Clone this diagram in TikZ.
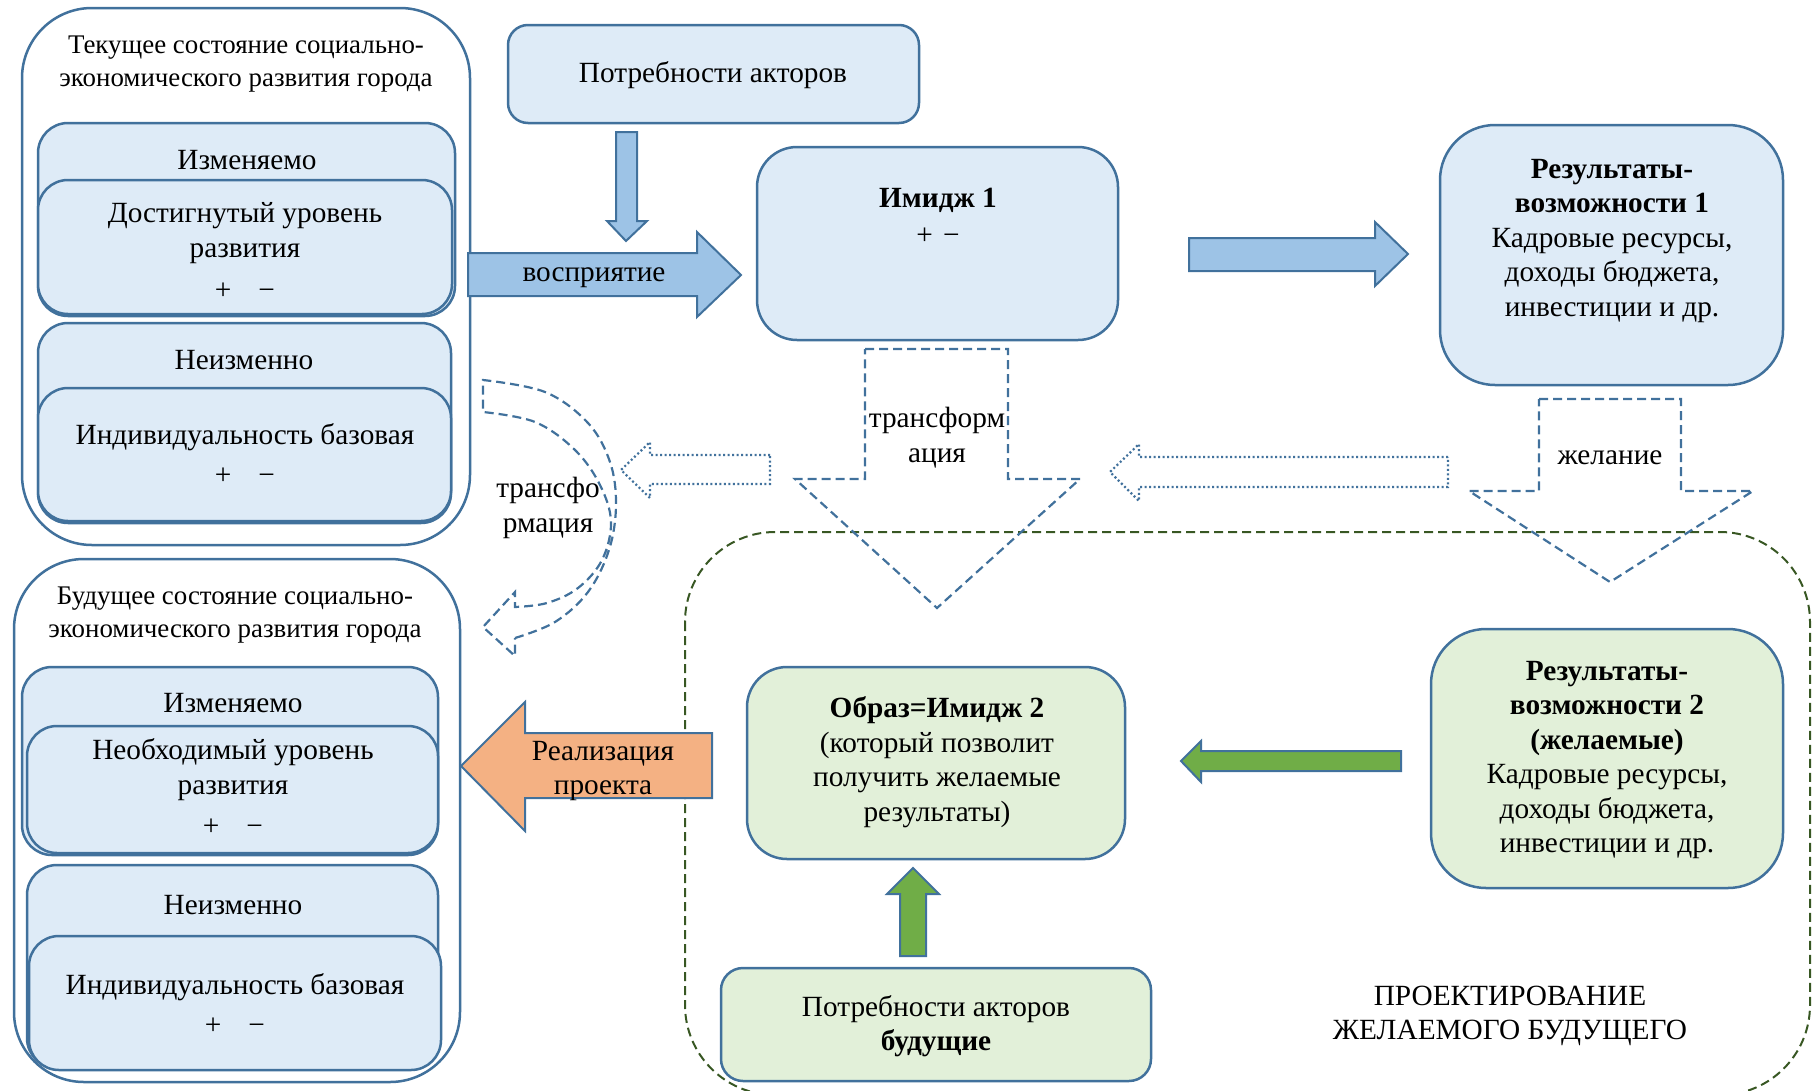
\documentclass[tikz,border=0pt]{standalone}
\usepackage{fontspec}
\setmainfont{Liberation Serif}
\definecolor{lineblue}{RGB}{65,113,156}
\definecolor{fillblue}{RGB}{222,235,247}
\definecolor{arrowblue}{RGB}{157,195,230}
\definecolor{greenfill}{RGB}{226,240,217}
\definecolor{greenarrow}{RGB}{112,173,71}
\definecolor{orangefill}{RGB}{244,177,131}
\definecolor{dashgreen}{RGB}{56,87,35}
\begin{document}
\begin{tikzpicture}[x=1pt,y=-1pt,
  every node/.style={inner sep=0pt, outer sep=0pt},
  txt/.style={font=\fontsize{29.3}{34.5}\selectfont, align=center},
  ttl/.style={font=\fontsize{26.9}{33}\selectfont, align=center},
  outerbox/.style={draw=lineblue, line width=2.5pt, fill=white, rounded corners=70pt},
  bbox/.style={draw=lineblue, line width=2.5pt, fill=fillblue, rounded corners=#1},
  gbox/.style={draw=lineblue, line width=2.5pt, fill=greenfill, rounded corners=#1},
  blockarrow/.style={draw=lineblue, line width=2pt, line join=miter, fill=#1},
  dasharrow/.style={draw=lineblue, line width=2.2pt, dash pattern=on 9pt off 5pt},
  dotarrow/.style={draw=lineblue, line width=2.2pt, dash pattern=on 2pt off 2.5pt},
]
\useasboundingbox (0,0) rectangle (1818,1090);
\clip (0,0) rectangle (1818,1090);

% project region
\draw[dashgreen, line width=2pt, dash pattern=on 9pt off 5pt, rounded corners=90pt] (685,532) rectangle (1810,1095);

% ---------- current state ----------
\node[outerbox, minimum width=448pt, minimum height=537pt] (cur) at (246,276.5) {};
\node[ttl] (curT) at (246,64.5) {Текущее состояние социально-\\экономического развития города};
\node[bbox=30pt, minimum width=417pt, minimum height=193pt] (izm1) at (246.5,219.5) {};
\node[txt] (izm1T) at (247,160) {Изменяемо};
\node[bbox=30pt, minimum width=414pt, minimum height=134pt] (dost1) at (245,247) {};
\node[txt] (dost1T) at (245,233) {Достигнутый уровень\\развития};
\node[txt] (dost1P) at (245,291) {+\hspace{27pt}−};
\node[bbox=30pt, minimum width=413pt, minimum height=200pt] (neiz1) at (244.5,423) {};
\node[txt] (neiz1T) at (244,360) {Неизменно};
\node[bbox=30pt, minimum width=413pt, minimum height=133pt] (ind1) at (244.5,454.5) {};
\node[txt] (ind1T) at (245,437) {Индивидуальность базовая};
\node[txt] (ind1P) at (245,476) {+\hspace{27pt}−};

% ---------- future state ----------
\node[outerbox, minimum width=446pt, minimum height=523pt] (fut) at (237,820.5) {};
\node[ttl] (futT) at (235,615) {Будущее состояние социально-\\экономического развития города};
\node[bbox=30pt, minimum width=416pt, minimum height=188pt] (izm2) at (230,761) {};
\node[txt] (izm2T) at (233,703) {Изменяемо};
\node[bbox=30pt, minimum width=411pt, minimum height=127pt] (neob2) at (232.5,789.5) {};
\node[txt] (neob2T) at (233,769.5) {Необходимый уровень\\развития};
\node[txt] (neob2P) at (233,827) {+\hspace{27pt}−};
\node[bbox=30pt, minimum width=411pt, minimum height=203pt] (neiz2) at (232.5,966.5) {};
\node[txt] (neiz2T) at (233,905) {Неизменно};
\node[bbox=30pt, minimum width=412pt, minimum height=134pt] (ind2) at (235,1003) {};
\node[txt] (ind2T) at (235,987) {Индивидуальность базовая};
\node[txt] (ind2P) at (235,1026) {+\hspace{27pt}−};

% ---------- top needs ----------
\node[bbox=20pt, minimum width=411pt, minimum height=98pt] (needs) at (713.5,74) {};
\node[txt] (needsT) at (713,75) {Потребности акторов};
\draw[blockarrow=arrowblue] (616,132) -- (637,132) -- (637,221) -- (647,221) -- (626,241) -- (607,221) -- (616,221) -- cycle;

% perception arrow
\draw[blockarrow=arrowblue] (468,253) -- (697,253) -- (697,232) -- (741,275) -- (697,317) -- (697,296) -- (468,296) -- cycle;
\node[txt] (percT) at (594,278) {восприятие};

% image 1
\node[bbox=40pt, minimum width=361pt, minimum height=193pt] (img1) at (937.5,243.5) {};
\node[txt, font=\fontsize{29.3}{34.5}\selectfont\bfseries] (img1T) at (938,200) {Имидж 1};
\node[txt] (img1P) at (938,236) {+\hspace{10pt}−};

% arrow to results 1
\draw[blockarrow=arrowblue] (1189,238) -- (1375,238) -- (1375,222) -- (1408,254) -- (1375,286) -- (1375,271) -- (1189,271) -- cycle;

% results 1
\node[bbox=55pt, minimum width=343pt, minimum height=260pt] (res1) at (1611.5,255) {};
\node[txt] (res1T) at (1612,241) {\textbf{Результаты-}\\\textbf{возможности 1}\\Кадровые ресурсы,\\доходы бюджета,\\инвестиции и др.};

% dashed transformation arrow
\draw[dasharrow] (865,349) -- (1008,349) -- (1008,479) -- (1080,479) -- (937,608) -- (795,479) -- (865,479) -- cycle;
\node[txt] (trT) at (937,437.5) {трансформ\\ация};

% desire arrow
\draw[dasharrow] (1539,399) -- (1681,399) -- (1681,491) -- (1753,491) -- (1610,582) -- (1469,491) -- (1539,491) -- cycle;
\node[txt] (desT) at (1610,458) {желание};

% dotted left arrows
\draw[dotarrow] (770,455) -- (650,455) -- (650,442) -- (621,470) -- (650,498) -- (650,484) -- (770,484) -- cycle;
\draw[dotarrow] (1448,457) -- (1139,457) -- (1139,444) -- (1110,472) -- (1139,501) -- (1139,487) -- (1448,487) -- cycle;

% curved transformation arrow
\draw[dasharrow] plot[smooth, tension=0.6] coordinates {(515,638) (555,622) (588,592) (609,550) (616,505) (610,462) (588,423) (545,392) (483,380)}
  -- plot[smooth, tension=0.6] coordinates {(483,412) (535,422) (575,450) (600,485) (611,522) (602,560) (578,588) (547,603) (515,607)}
  -- (515,592) -- (483,627) -- (515,656) -- cycle;
\node[txt] (tr2T) at (548,508) {трансфо\\рмация};

% results 2
\node[gbox=55pt, minimum width=352pt, minimum height=259pt] (res2) at (1607,758.5) {};
\node[txt] (res2T) at (1607,760) {\textbf{Результаты-}\\\textbf{возможности 2}\\\textbf{(желаемые)}\\Кадровые ресурсы,\\доходы бюджета,\\инвестиции и др.};

% green left arrow
\draw[blockarrow=greenarrow] (1401,751) -- (1201,751) -- (1201,741) -- (1181,761) -- (1201,782) -- (1201,771) -- (1401,771) -- cycle;

% image 2
\node[gbox=40pt, minimum width=378pt, minimum height=192pt] (obr) at (936,763) {};
\node[txt] (obrT) at (937,762) {\textbf{Образ=Имидж 2}\\(который позволит\\получить желаемые\\результаты)};

% green up arrow
\draw[blockarrow=greenarrow] (900,956) -- (900,894) -- (887,894) -- (913,868) -- (939,894) -- (926,894) -- (926,956) -- cycle;

% future needs
\node[gbox=22pt, minimum width=430pt, minimum height=113pt] (fneeds) at (936,1024.5) {};
\node[txt] (fneedsT) at (936,1026) {Потребности акторов\\\textbf{будущие}};

% realization arrow
\draw[blockarrow=orangefill] (712,733) -- (525,733) -- (525,702) -- (461,766) -- (525,831) -- (525,798) -- (712,798) -- cycle;
\node[txt] (realT) at (603,771) {Реализация\\проекта};

% project label
\node[txt] (projT) at (1510,1016) {ПРОЕКТИРОВАНИЕ\\ЖЕЛАЕМОГО БУДУЩЕГО};
\end{tikzpicture}
\end{document}
